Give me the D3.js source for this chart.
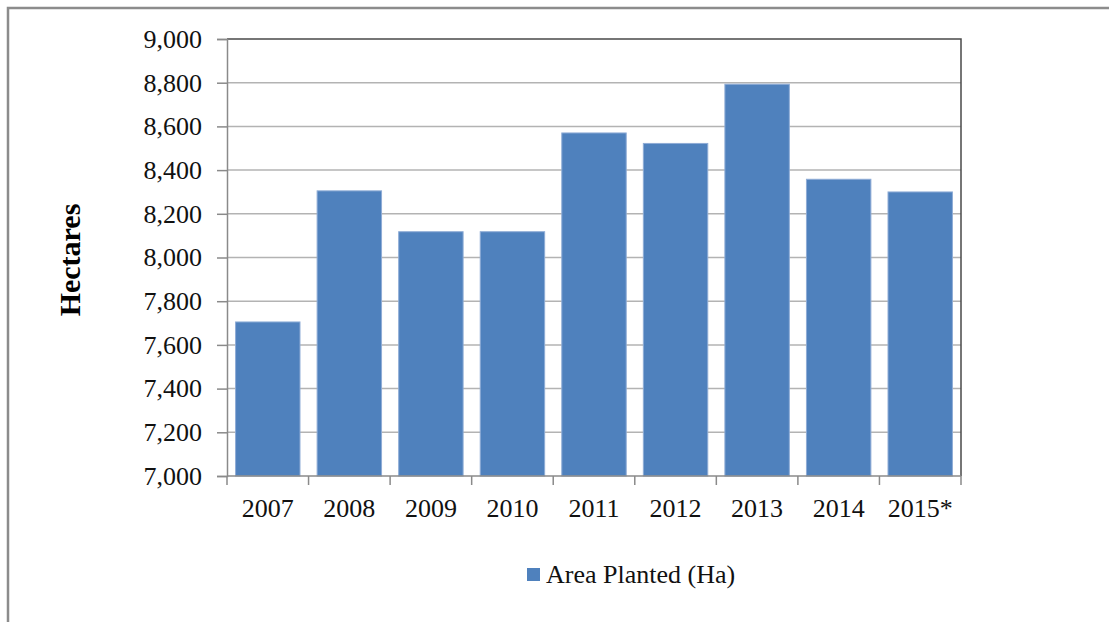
<!DOCTYPE html>
<html>
<head>
<meta charset="utf-8">
<script src="https://cdn.jsdelivr.net/npm/d3@7/dist/d3.min.js"></script>
<style>
  html, body { margin: 0; padding: 0; background: #fff; }
</style>
</head>
<body>
<svg id="chart" width="1109" height="622"></svg>
<script>
// data
const years = ['2007', '2008', '2009', '2010', '2011', '2012', '2013', '2014', '2015*'];
const areaPlanted = [7705, 8305, 8118, 8118, 8570, 8522, 8793, 8358, 8300];
const yTicks = [7000, 7200, 7400, 7600, 7800, 8000, 8200, 8400, 8600, 8800, 9000];
const seriesName = 'Area Planted (Ha)';
const yTitle = 'Hectares';

const serif = 'Liberation Serif';
const svg = d3.select('#chart').attr('font-family', serif);
const margin = {top: 39, left: 227};
const W = 1109, H = 622;
const innerW = 961 - margin.left;
const innerH = 476 - margin.top;

// outer frame (top + left edge visible)
svg.append('path')
  .attr('d', `M8,${H} L8,8 L${W},8`)
  .attr('fill', 'none')
  .attr('stroke', '#8c8c8c')
  .attr('stroke-width', 2.5);

const g = svg.append('g').attr('transform', `translate(${margin.left},${margin.top})`);

const x = d3.scaleBand()
  .domain(years)
  .range([0, innerW])
  .paddingInner(0.21)
  .paddingOuter(0.105);

const y = d3.scaleLinear()
  .domain([7000, 9000])
  .range([innerH, 0]);

// gridlines
g.append('g')
  .selectAll('line')
  .data(yTicks.slice(1, -1))
  .join('line')
  .attr('x1', 0)
  .attr('x2', innerW)
  .attr('y1', d => y(d))
  .attr('y2', d => y(d))
  .attr('stroke', '#b3b3b3')
  .attr('stroke-width', 1.5);

// plot area border top + right
g.append('path')
  .attr('d', `M0,${y(9000)} L${innerW},${y(9000)} L${innerW},${innerH}`)
  .attr('fill', 'none')
  .attr('stroke', '#4a4a4a')
  .attr('stroke-width', 1.5);

// bars
g.append('g')
  .selectAll('rect')
  .data(years.map((yr, i) => ({yr, v: areaPlanted[i]})))
  .join('rect')
  .attr('x', d => x(d.yr))
  .attr('y', d => y(d.v))
  .attr('width', x.bandwidth())
  .attr('height', d => innerH - y(d.v))
  .attr('fill', '#4f81bd')
  .attr('stroke', '#8eacd6')
  .attr('stroke-width', 1);

// y axis
const yAxis = d3.axisLeft(y)
  .tickValues(yTicks)
  .tickSize(10)
  .tickPadding(15)
  .tickFormat(d3.format(','));
const yAxisG = g.append('g').call(yAxis).attr('font-family', serif).attr('font-size', 26);
yAxisG.select('.domain').attr('stroke', '#8a8a8a').attr('stroke-width', 1.5);
yAxisG.selectAll('.tick line').attr('stroke', '#8a8a8a').attr('stroke-width', 1.5);
yAxisG.selectAll('.tick text').attr('fill', '#111');

// x axis: ticks at category boundaries
const xAxisG = g.append('g').attr('transform', `translate(0,${innerH})`);
xAxisG.append('line')
  .attr('x1', 0).attr('x2', innerW)
  .attr('stroke', '#8a8a8a').attr('stroke-width', 1.5);
const bounds = d3.range(years.length + 1).map(i => i * x.step());
xAxisG.selectAll('line.xt')
  .data(bounds)
  .join('line')
  .attr('class', 'xt')
  .attr('x1', d => d).attr('x2', d => d)
  .attr('y1', 0).attr('y2', 9)
  .attr('stroke', '#8a8a8a').attr('stroke-width', 1.5);
xAxisG.selectAll('text')
  .data(years)
  .join('text')
  .attr('x', d => x(d) + x.bandwidth() / 2)
  .attr('y', 41)
  .attr('text-anchor', 'middle')
  .attr('font-size', 26)
  .attr('fill', '#111')
  .text(d => d);

// y axis title
svg.append('text')
  .attr('transform', `translate(80,260) rotate(-90)`)
  .attr('text-anchor', 'middle')
  .attr('font-size', 30)
  .attr('font-weight', 'bold')
  .attr('fill', '#000')
  .text(yTitle);

// legend
const lg = svg.append('g').attr('transform', 'translate(527,568)');
lg.append('rect')
  .attr('width', 13).attr('height', 13)
  .attr('fill', '#4f81bd');
lg.append('text')
  .attr('x', 19)
  .attr('y', 15)
  .attr('font-size', 26)
  .attr('fill', '#111')
  .text(seriesName);
</script>
</body>
</html>
